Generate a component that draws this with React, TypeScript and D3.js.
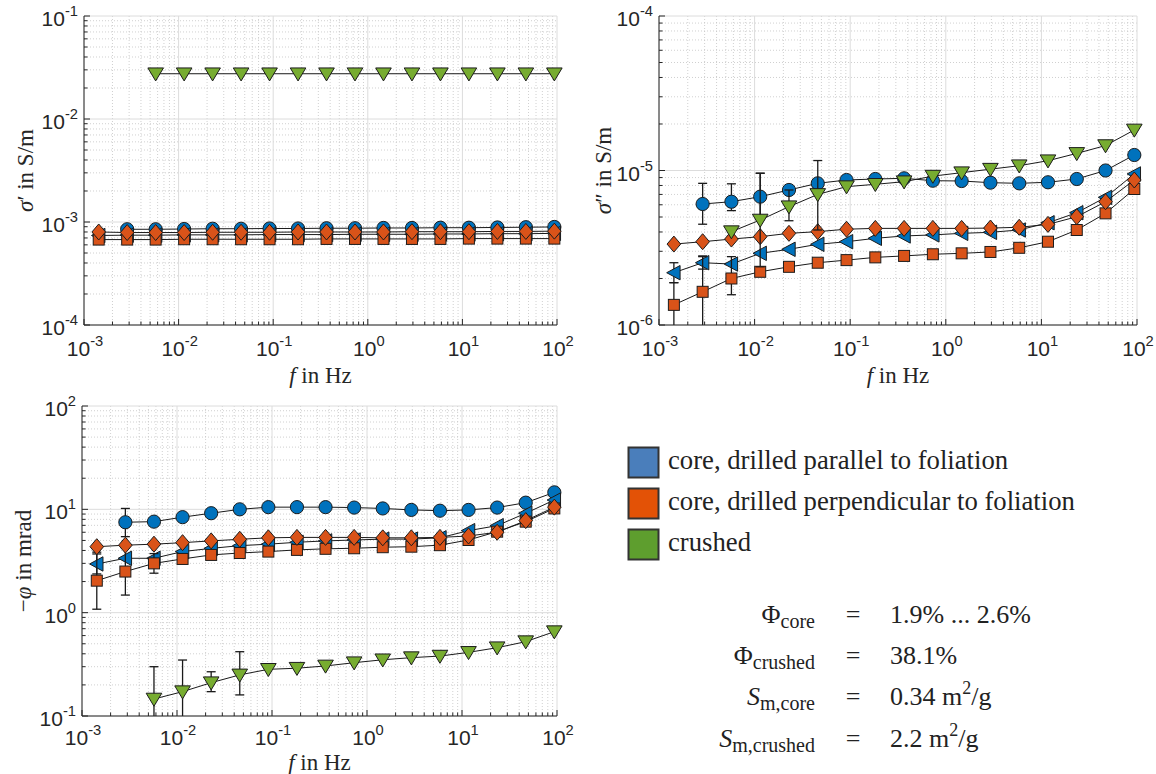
import React from "react";
import * as d3 from "d3";

// ---------- data ----------
const freq = [0.001431, 0.002861, 0.005722, 0.011444, 0.022888, 0.045776, 0.091553, 0.183105, 0.366211,
  0.732422, 1.464844, 2.929688, 5.859375, 11.71875, 23.4375, 46.875, 93.75];

const N = null;

// sigma' in S/m
const sigReParA = [N, 8.5e-4, 8.5e-4, 8.55e-4, 8.6e-4, 8.6e-4, 8.65e-4, 8.65e-4, 8.7e-4, 8.7e-4, 8.75e-4, 8.75e-4, 8.8e-4, 8.8e-4, 8.85e-4, 8.9e-4, 8.95e-4];
const sigReParB = [7.4e-4, 7.45e-4, 7.45e-4, 7.5e-4, 7.5e-4, 7.5e-4, 7.55e-4, 7.55e-4, 7.55e-4, 7.6e-4, 7.6e-4, 7.6e-4, 7.65e-4, 7.65e-4, 7.7e-4, 7.7e-4, 7.75e-4];
const sigRePerpA = [8.0e-4, 7.9e-4, 7.9e-4, 7.9e-4, 7.95e-4, 7.95e-4, 7.95e-4, 8.0e-4, 8.0e-4, 8.0e-4, 8.0e-4, 8.05e-4, 8.05e-4, 8.05e-4, 8.1e-4, 8.1e-4, 8.15e-4];
const sigRePerpB = [6.75e-4, 6.75e-4, 6.75e-4, 6.8e-4, 6.8e-4, 6.8e-4, 6.8e-4, 6.8e-4, 6.85e-4, 6.85e-4, 6.85e-4, 6.85e-4, 6.85e-4, 6.9e-4, 6.9e-4, 6.9e-4, 6.9e-4];
const sigReCrushed = [N, N, 0.0275, 0.0275, 0.0275, 0.0275, 0.0275, 0.0275, 0.0275, 0.0275, 0.0275, 0.0275, 0.0275, 0.0275, 0.0275, 0.0275, 0.0275];

// sigma'' in S/m
const sigImParA = [N, 6.07e-6, 6.28e-6, 6.77e-6, 7.48e-6, 8.26e-6, 8.68e-6, 8.81e-6, 8.9e-6, 8.59e-6, 8.55e-6, 8.34e-6, 8.26e-6, 8.39e-6, 8.81e-6, 1.0e-5, 1.26e-5];
const sigImParB = [2.18e-6, 2.53e-6, 2.48e-6, 2.91e-6, 3.09e-6, 3.33e-6, 3.46e-6, 3.64e-6, 3.77e-6, 3.83e-6, 3.92e-6, 3.98e-6, 4.12e-6, 4.59e-6, 5.33e-6, 6.7e-6, 9.5e-6];
const sigImPerpA = [3.34e-6, 3.46e-6, 3.6e-6, 3.73e-6, 3.92e-6, 4.02e-6, 4.17e-6, 4.22e-6, 4.22e-6, 4.22e-6, 4.22e-6, 4.24e-6, 4.29e-6, 4.48e-6, 5.02e-6, 6.28e-6, 8.68e-6];
const sigImPerpB = [1.35e-6, 1.64e-6, 2.0e-6, 2.21e-6, 2.38e-6, 2.53e-6, 2.63e-6, 2.74e-6, 2.8e-6, 2.87e-6, 2.91e-6, 2.97e-6, 3.16e-6, 3.46e-6, 4.12e-6, 5.28e-6, 7.59e-6];
const sigImCrushed = [N, N, 4.02e-6, 4.78e-6, 5.83e-6, 7.0e-6, 7.86e-6, 8.14e-6, 8.46e-6, 9.2e-6, 9.68e-6, 1.02e-5, 1.074e-5, 1.157e-5, 1.29e-5, 1.45e-5, 1.83e-5];

// error bars [index, low, high]
const sigImParAErr = [[1, 4.49e-6, 8.26e-6], [2, 5.5e-6, 8.2e-6], [3, 4.8e-6, 9.6e-6], [6, 8.2e-6, 9.2e-6]];
const sigImParBErr = [[0, 1.88e-6, 2.53e-6], [1, 2.3e-6, 2.8e-6]];
const sigImPerpBErr = [[0, 0.9e-6, 1.88e-6], [1, 0.95e-6, 2.77e-6], [2, 1.57e-6, 2.77e-6]];
const sigImCrushedErr = [[3, 2.38e-6, 9.6e-6], [4, 4.73e-6, 7.48e-6], [5, 4.12e-6, 1.16e-5]];

// -phi in mrad
const phiParA = [N, 7.5, 7.6, 8.4, 9.17, 10.0, 10.5, 10.5, 10.5, 10.4, 10.2, 9.87, 9.7, 9.87, 10.4, 11.6, 14.6];
const phiParB = [2.96, 3.36, 3.36, 3.9, 4.19, 4.45, 4.6, 4.8, 4.95, 5.05, 5.15, 5.15, 5.3, 6.22, 6.95, 9.17, 12.3];
const phiPerpA = [4.35, 4.5, 4.6, 4.76, 4.95, 5.13, 5.3, 5.35, 5.35, 5.35, 5.3, 5.3, 5.35, 5.52, 6.0, 7.78, 10.5];
const phiPerpB = [2.04, 2.5, 3.0, 3.31, 3.62, 3.78, 3.9, 4.05, 4.15, 4.2, 4.3, 4.35, 4.5, 5.05, 6.08, 7.6, 10.2];
const phiCrushed = [N, N, 0.146, 0.172, 0.21, 0.25, 0.283, 0.29, 0.305, 0.328, 0.35, 0.367, 0.38, 0.413, 0.458, 0.524, 0.655];

const phiParAErr = [[1, 5.44, 10.2]];
const phiParBErr = [[0, 2.37, 3.7]];
const phiPerpBErr = [[0, 1.08, 3.85], [1, 1.48, 4.22], [2, 2.41, 3.73]];
const phiCrushedErr = [[2, 0.073, 0.3], [3, 0.085, 0.348], [4, 0.172, 0.268], [5, 0.16, 0.419]];

const legendLabels = ["core, drilled parallel to foliation", "core, drilled perpendicular to foliation", "crushed"];
const xTickExps = [-3, -2, -1, 0, 1, 2];

// ---------- styles ----------
const BLUE = "#0072BD";
const ORANGE = "#D95319";
const GREEN = "#77AC30";
const legendColors = ["#4a7ebb", "#e35206", "#5e9e2e"];
const AXIS = "#262626";
const SANS = "'Liberation Sans', Arial, sans-serif";
const SERIF = "'Liberation Serif', 'Times New Roman', serif";

type Err = number[][];
type Ser = { vals: (number | null)[]; marker: string; fill: string; err?: Err };

const mk = (vals: (number | null)[], marker: string, fill: string, err?: Err): Ser => ({ vals, marker, fill, err });

const panels = [
  {
    left: 84, right: 557, top: 16, bottom: 325, ymin: -4, ymax: -1,
    labelX: 33, tickBase: 356, xLabelBase: 383,
    ylabel: [{ t: "σ", it: true }, { t: "′ in S/m", it: false }],
    series: [
      mk(sigReParA, "o", BLUE), mk(sigReParB, "<", BLUE), mk(sigRePerpB, "s", ORANGE),
      mk(sigRePerpA, "d", ORANGE), mk(sigReCrushed, "v", GREEN),
    ],
  },
  {
    left: 659, right: 1137, top: 16, bottom: 325, ymin: -6, ymax: -4,
    labelX: 611, tickBase: 356, xLabelBase: 383,
    ylabel: [{ t: "σ", it: true }, { t: "″ in S/m", it: false }],
    series: [
      mk(sigImParA, "o", BLUE, sigImParAErr), mk(sigImParB, "<", BLUE, sigImParBErr),
      mk(sigImPerpB, "s", ORANGE, sigImPerpBErr), mk(sigImPerpA, "d", ORANGE),
      mk(sigImCrushed, "v", GREEN, sigImCrushedErr),
    ],
  },
  {
    left: 82, right: 557, top: 406, bottom: 716, ymin: -1, ymax: 2,
    labelX: 31, tickBase: 745, xLabelBase: 770,
    ylabel: [{ t: "−", it: false }, { t: "φ", it: true }, { t: " in mrad", it: false }],
    series: [
      mk(phiParA, "o", BLUE, phiParAErr), mk(phiParB, "<", BLUE, phiParBErr),
      mk(phiPerpB, "s", ORANGE, phiPerpBErr), mk(phiPerpA, "d", ORANGE),
      mk(phiCrushed, "v", GREEN, phiCrushedErr),
    ],
  },
];

function Marker({ type, x, y, fill }: { type: string; x: number; y: number; fill: string }) {
  const st = { fill, stroke: "#1c1c1c", strokeWidth: 1 };
  if (type === "o") return <circle cx={x} cy={y} r={6.6} {...st} />;
  if (type === "s") return <rect x={x - 5.5} y={y - 5.5} width={11} height={11} {...st} />;
  let pts: number[][] = [];
  if (type === "d") pts = [[0, -8], [6.8, 0], [0, 8], [-6.8, 0]];
  if (type === "<") pts = [[-7.2, 0], [6.2, -7.2], [6.2, 7.2]];
  if (type === "v") pts = [[-7.8, -5.8], [7.8, -5.8], [0, 7.2]];
  return <polygon points={pts.map((p) => `${x + p[0]},${y + p[1]}`).join(" ")} {...st} />;
}

function Sup({ x, y, exp, anchor, size }: { x: number; y: number; exp: number; anchor: string; size: number }) {
  return (
    <text x={x} y={y} textAnchor={anchor} fontFamily={SANS} fontSize={size} fill={AXIS}>
      10
      <tspan dy={-10} fontSize={size * 0.7}>{String(exp)}</tspan>
    </text>
  );
}

function Panel({ p, idx }: { p: any; idx: number }) {
  const x = d3.scaleLog().domain([1e-3, 1e2]).range([p.left, p.right]);
  const y = d3.scaleLog().domain([Math.pow(10, p.ymin), Math.pow(10, p.ymax)]).range([p.bottom, p.top]);
  const xMinor: number[] = [];
  for (let e = -3; e < 2; e++) for (let k = 2; k <= 9; k++) xMinor.push(k * Math.pow(10, e));
  const yMinor: number[] = [];
  const yMajor: number[] = [];
  for (let e = p.ymin; e <= p.ymax; e++) yMajor.push(e);
  for (let e = p.ymin; e < p.ymax; e++) for (let k = 2; k <= 9; k++) yMinor.push(k * Math.pow(10, e));
  const line = d3
    .line<any>()
    .defined((d) => d[1] != null)
    .x((d) => x(d[0]))
    .y((d) => y(d[1]));
  const clipId = `clip${idx}`;
  const cx = (p.left + p.right) / 2;
  const cy = (p.top + p.bottom) / 2;
  return (
    <g>
      <defs>
        <clipPath id={clipId}>
          <rect x={p.left} y={p.top} width={p.right - p.left} height={p.bottom - p.top} />
        </clipPath>
      </defs>
      {/* minor grid */}
      {xMinor.map((v, i) => (
        <line key={"xm" + i} x1={x(v)} x2={x(v)} y1={p.top} y2={p.bottom} stroke="#c4c4c4" strokeWidth={0.8} strokeDasharray="1 2" />
      ))}
      {yMinor.map((v, i) => (
        <line key={"ym" + i} y1={y(v)} y2={y(v)} x1={p.left} x2={p.right} stroke="#c4c4c4" strokeWidth={0.8} strokeDasharray="1 2" />
      ))}
      {/* major grid */}
      {xTickExps.map((e) => (
        <line key={"xg" + e} x1={x(Math.pow(10, e))} x2={x(Math.pow(10, e))} y1={p.top} y2={p.bottom} stroke="#dcdcdc" strokeWidth={1} />
      ))}
      {yMajor.map((e) => (
        <line key={"yg" + e} y1={y(Math.pow(10, e))} y2={y(Math.pow(10, e))} x1={p.left} x2={p.right} stroke="#dcdcdc" strokeWidth={1} />
      ))}
      {/* series */}
      {p.series.map((s: Ser, si: number) => {
        const pts = freq.map((f, i) => [f, s.vals[i]]);
        return (
          <g key={"s" + si}>
            <path d={line(pts) || ""} fill="none" stroke="#1a1a1a" strokeWidth={1} />
            <g clipPath={`url(#${clipId})`}>
              {(s.err || []).map((e, ei) => {
                const xx = x(freq[e[0]]);
                return (
                  <g key={"e" + ei} stroke="#1a1a1a" strokeWidth={1.3}>
                    <line x1={xx} x2={xx} y1={y(e[1])} y2={y(e[2])} />
                    <line x1={xx - 4.5} x2={xx + 4.5} y1={y(e[1])} y2={y(e[1])} />
                    <line x1={xx - 4.5} x2={xx + 4.5} y1={y(e[2])} y2={y(e[2])} />
                  </g>
                );
              })}
            </g>
            {pts.map((d, i) =>
              d[1] == null ? null : <Marker key={"m" + i} type={s.marker} x={x(d[0] as number)} y={y(d[1] as number)} fill={s.fill} />
            )}
          </g>
        );
      })}
      {/* axes */}
      <line x1={p.left} x2={p.right} y1={p.bottom} y2={p.bottom} stroke={AXIS} strokeWidth={1} />
      <line x1={p.left} x2={p.left} y1={p.top} y2={p.bottom} stroke={AXIS} strokeWidth={1} />
      {xMinor.map((v, i) => (
        <line key={"xt" + i} x1={x(v)} x2={x(v)} y1={p.bottom} y2={p.bottom - 3.5} stroke={AXIS} strokeWidth={1} />
      ))}
      {xTickExps.map((e) => (
        <line key={"xT" + e} x1={x(Math.pow(10, e))} x2={x(Math.pow(10, e))} y1={p.bottom} y2={p.bottom - 6} stroke={AXIS} strokeWidth={1} />
      ))}
      {yMinor.map((v, i) => (
        <line key={"yt" + i} y1={y(v)} y2={y(v)} x1={p.left} x2={p.left + 3.5} stroke={AXIS} strokeWidth={1} />
      ))}
      {yMajor.map((e) => (
        <line key={"yT" + e} y1={y(Math.pow(10, e))} y2={y(Math.pow(10, e))} x1={p.left} x2={p.left + 6} stroke={AXIS} strokeWidth={1} />
      ))}
      {/* tick labels */}
      {xTickExps.map((e) => (
        <Sup key={"xl" + e} x={x(Math.pow(10, e)) + 1} y={p.tickBase} exp={e} anchor="middle" size={21} />
      ))}
      {yMajor.map((e) => (
        <Sup key={"yl" + e} x={p.left - 6} y={y(Math.pow(10, e)) + 10} exp={e} anchor="end" size={21} />
      ))}
      {/* axis labels */}
      <text x={cx} y={p.xLabelBase} textAnchor="middle" fontFamily={SERIF} fontSize={23} fill={AXIS}>
        <tspan fontStyle="italic">f</tspan> in Hz
      </text>
      <text transform={`translate(${p.labelX},${cy}) rotate(-90)`} textAnchor="middle" fontFamily={SERIF} fontSize={23} fill={AXIS}>
        {p.ylabel.map((l: any, i: number) => (
          <tspan key={i} fontStyle={l.it ? "italic" : "normal"}>{l.t}</tspan>
        ))}
      </text>
    </g>
  );
}

export default function App() {
  const eqRows = [
    { sym: "Φ", symIt: false, sub: "core", rhs: [{ t: "1.9% ... 2.6%" }] },
    { sym: "Φ", symIt: false, sub: "crushed", rhs: [{ t: "38.1%" }] },
    { sym: "S", symIt: true, sub: "m,core", rhs: [{ t: "0.34 m" }, { t: "2", sup: true }, { t: "/g", down: true }] },
    { sym: "S", symIt: true, sub: "m,crushed", rhs: [{ t: "2.2 m" }, { t: "2", sup: true }, { t: "/g", down: true }] },
  ];
  const eqBase = [623, 664, 705, 747];
  return (
    <svg width={1156} height={774} style={{ position: "absolute", left: 0, top: 0, background: "#fff" }}>
      <rect x={0} y={0} width={1156} height={774} fill="#fff" />
      {panels.map((p, i) => (
        <Panel key={i} p={p} idx={i} />
      ))}
      {/* legend */}
      {legendLabels.map((l, i) => (
        <g key={"lg" + i}>
          <rect x={628.5} y={447.5 + i * 41} width={30} height={30} fill={legendColors[i]} stroke="#333" strokeWidth={2} />
          <text x={668} y={469 + i * 41} fontFamily={SERIF} fontSize={26.7} fill="#222">{l}</text>
        </g>
      ))}
      {/* equations */}
      {eqRows.map((r, i) => (
        <g key={"eq" + i} fontFamily={SERIF} fill="#222">
          <text x={815} y={eqBase[i]} textAnchor="end" fontSize={26}>
            <tspan fontStyle={r.symIt ? "italic" : "normal"}>{r.sym}</tspan>
            <tspan dy={5} fontSize={20}>{r.sub}</tspan>
          </text>
          <text x={853} y={eqBase[i]} textAnchor="middle" fontSize={26}>=</text>
          <text x={890} y={eqBase[i]} fontSize={26}>
            {r.rhs.map((s: any, j: number) => (
              <tspan key={j} dy={s.sup ? -11 : s.down ? 11 : 0} fontSize={s.sup ? 18 : 26}>{s.t}</tspan>
            ))}
          </text>
        </g>
      ))}
    </svg>
  );
}
